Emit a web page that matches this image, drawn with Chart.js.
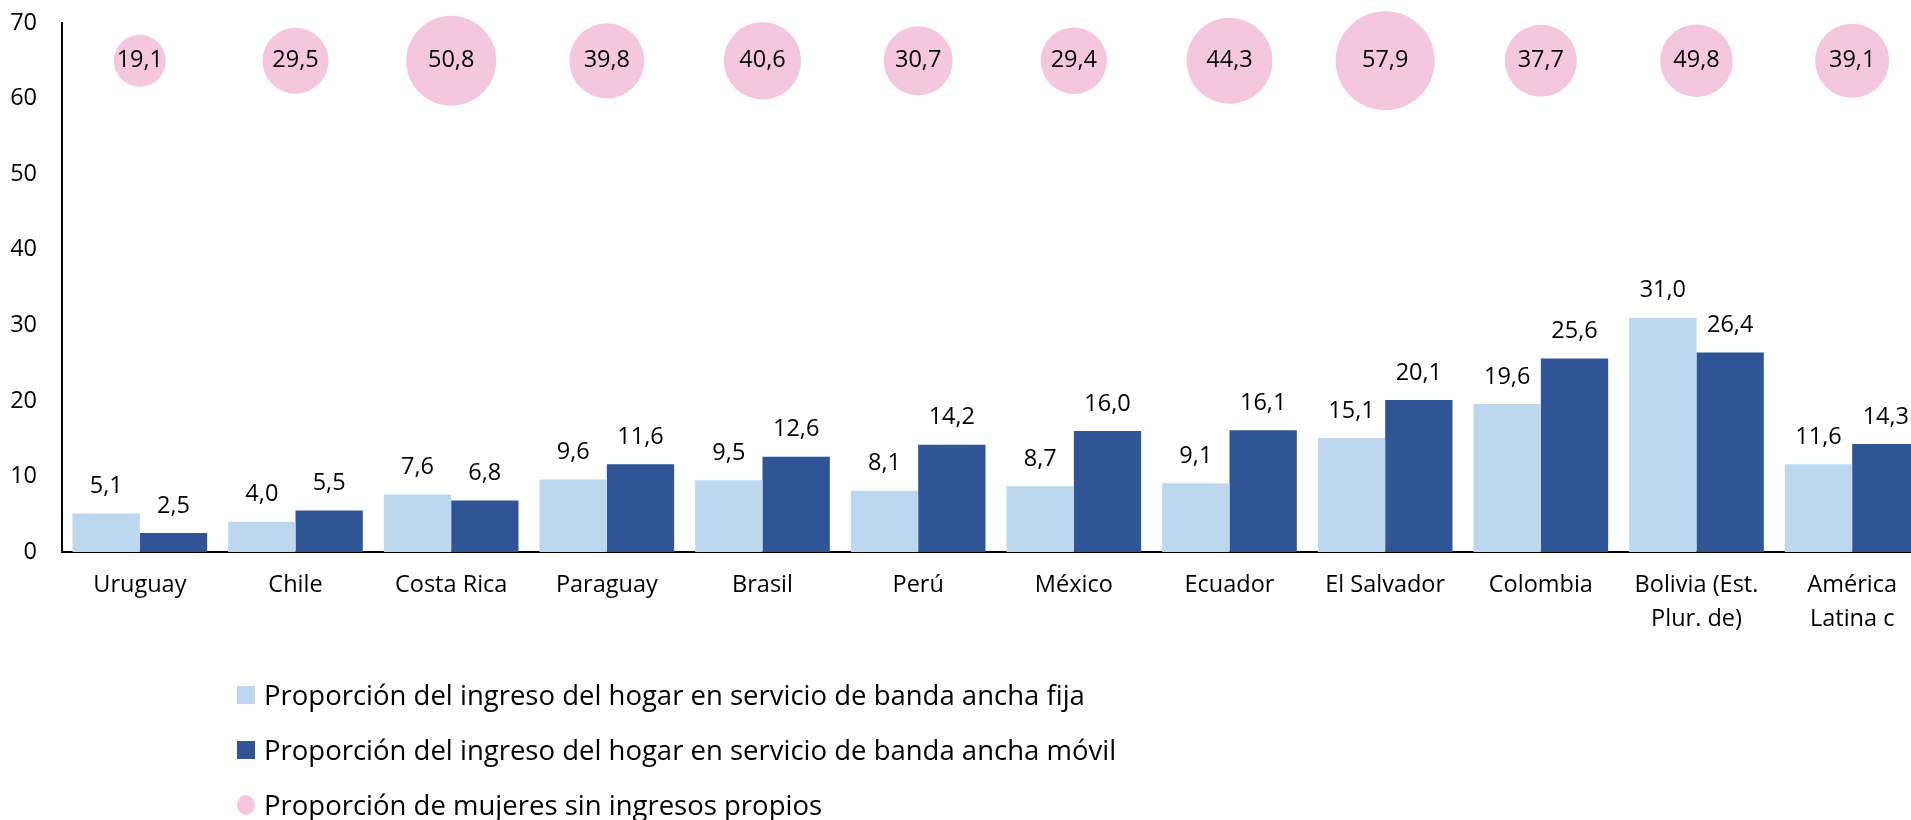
<!DOCTYPE html>
<html lang="es">
<head>
<meta charset="utf-8">
<title>Proporción del ingreso del hogar en banda ancha</title>
<script src="https://cdn.jsdelivr.net/npm/chart.js@4/dist/chart.umd.min.js"></script>
<style>
    html, body { margin: 0; padding: 0; background: #fff; overflow: hidden; }
    #wrap { position: relative; width: 1940px; height: 820px; }
    #leyenda { position: absolute; left: 237px; top: 667px; font-family: "Open Sans", sans-serif; font-size: 27.5px; color: #000; }
    #leyenda .item { display: flex; align-items: center; height: 55px; white-space: nowrap; }
    #leyenda .marca { width: 18px; height: 18px; margin-right: 9px; flex: none; }
    #leyenda .marca.circulo { border-radius: 50%; height: 20px; }
</style>
</head>
<body>
<div id="wrap">
    <canvas id="grafico"></canvas>
    <div id="leyenda"></div>
</div>
<script>
// --- datos ---
const categorias = ['Uruguay', 'Chile', 'Costa Rica', 'Paraguay', 'Brasil', 'Perú', 'México', 'Ecuador',
    'El Salvador', 'Colombia', ['Bolivia (Est.', 'Plur. de)'], ['América', 'Latina c']];
const bandaFija  = [5.1, 4.0, 7.6, 9.6, 9.5, 8.1, 8.7, 9.1, 15.1, 19.6, 31.0, 11.6];
const bandaMovil = [2.5, 5.5, 6.8, 11.6, 12.6, 14.2, 16.0, 16.1, 20.1, 25.6, 26.4, 14.3];
const mujeresSinIngresos = [19.1, 29.5, 50.8, 39.8, 40.6, 30.7, 29.4, 44.3, 57.9, 37.7, 49.8, 39.1];
// tamaño de burbuja (columna de tamaño de la serie de burbujas, tal como se ve)
const tamanoBurbuja = [26, 33, 45, 37.5, 38.7, 34.5, 33.2, 43, 49.5, 36, 36.3, 37];
const filaBurbujas = 65; // las burbujas van en una fila fija del eje Y
const ticksY = [0, 10, 20, 30, 40, 50, 60, 70];

const FUENTE = '"Open Sans", sans-serif';

const fmt = v => v.toFixed(1).replace('.', ',');

// etiquetas de valor (sin plugin externo)
const etiquetasPlugin = {
    id: 'etiquetas',
    afterDatasetsDraw(chart) {
        const ctx = chart.ctx;
        ctx.save();
        ctx.font = '23.5px ' + FUENTE;
        ctx.fillStyle = '#000';
        ctx.textAlign = 'center';
        ctx.textBaseline = 'middle';
        chart.data.datasets.forEach((ds, i) => {
            const meta = chart.getDatasetMeta(i);
            meta.data.forEach((el, j) => {
                if (ds.type === 'bubble') {
                    ctx.fillText(fmt(mujeresSinIngresos[j]), el.x, el.y);
                } else {
                    ctx.fillText(fmt(ds.data[j]), el.x, el.y - 27);
                }
            });
        });
        ctx.restore();
    }
};

const datasets = [
    {
        type: 'bubble',
        label: 'Proporción de mujeres sin ingresos propios',
        data: mujeresSinIngresos.map((v, i) => ({ x: i, y: filaBurbujas, r: tamanoBurbuja[i] })),
        backgroundColor: '#F4C7DF',
        borderWidth: 0,
        clip: false,
        order: 0
    },
    {
        label: 'Proporción del ingreso del hogar en servicio de banda ancha fija',
        data: bandaFija,
        backgroundColor: '#BDD7EE',
        order: 1
    },
    {
        label: 'Proporción del ingreso del hogar en servicio de banda ancha móvil',
        data: bandaMovil,
        backgroundColor: '#2F5597',
        order: 1
    }
];

const grafico = new Chart(document.getElementById('grafico'), {
    type: 'bar',
    data: { labels: categorias, datasets: datasets },
    options: {
        responsive: true,
        maintainAspectRatio: false,
        animation: false,
        layout: { autoPadding: false, padding: { top: 23, right: 10, bottom: 168, left: 0 } },
        datasets: {
            bar: { categoryPercentage: 0.865, barPercentage: 1.0 }
        },
        scales: {
            x: {
                offset: true,
                grid: { display: false, drawTicks: false },
                border: { display: true, color: '#000', width: 2 },
                ticks: {
                    color: '#000',
                    font: { family: FUENTE, size: 23.5, lineHeight: 1.45 },
                    padding: 16,
                    maxRotation: 0,
                    autoSkip: false
                },
                afterFit: s => { s.height = 100; }
            },
            y: {
                min: 0,
                max: 70,
                afterBuildTicks: s => { s.ticks = ticksY.map(v => ({ value: v })); },
                grid: { display: false, drawTicks: false },
                border: { display: true, color: '#000', width: 2 },
                ticks: {
                    color: '#000',
                    font: { family: FUENTE, size: 23.5 },
                    padding: 25
                },
                afterFit: s => {
                    s.width = 62;
                    // el padding de las etiquetas no debe empujar el área del gráfico
                    s.paddingTop = 0;
                    s.paddingBottom = 0;
                }
            }
        },
        plugins: {
            legend: { display: false },
            tooltip: { enabled: false }
        }
    },
    plugins: [etiquetasPlugin]
});

// leyenda en HTML, en el orden del original
const leyenda = document.getElementById('leyenda');
[1, 2, 0].forEach(i => {
    const ds = grafico.data.datasets[i];
    const item = document.createElement('div');
    item.className = 'item';
    item.innerHTML = `<span class="marca${ds.type === 'bubble' ? ' circulo' : ''}" style="background:${ds.backgroundColor}"></span><span>${ds.label}</span>`;
    leyenda.appendChild(item);
});
</script>
</body>
</html>
